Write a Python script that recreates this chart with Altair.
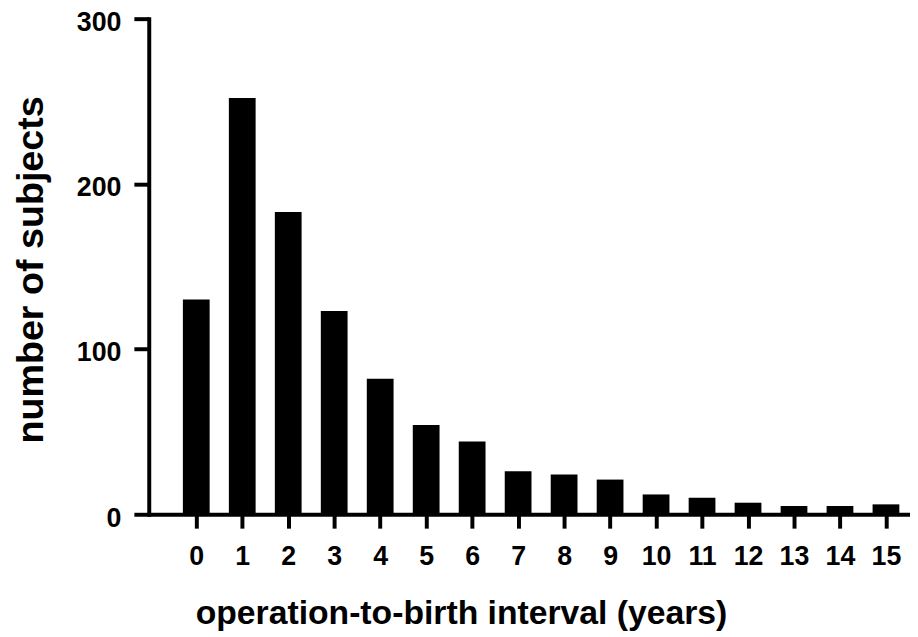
import altair as alt
import pandas as pd

years = list(range(16))
subjects = [130, 252, 183, 123, 82, 54, 44, 26, 24, 21, 12, 10, 7, 5, 5, 6]
y_ticks = [0, 100, 200, 300]

df = pd.DataFrame({"year": years, "n": subjects})

FONT = "Liberation Sans"

chart = alt.Chart(df).mark_bar(size=27, color="black").encode(
    x=alt.X(
        "year:Q",
        scale=alt.Scale(domain=[-0.9255, 15.415], nice=False, zero=False),
        axis=alt.Axis(
            values=years,
            format="d",
            title="operation-to-birth interval (years)",
            grid=False,
            domainColor="black",
            domainWidth=4,
            tickColor="black",
            tickWidth=4,
            tickSize=14,
            labelFont=FONT,
            labelFontWeight="bold",
            labelFontSize=27,
            labelColor="black",
            labelPadding=16,
            labelFlush=False,
            labelOverlap=False,
            titleFont=FONT,
            titleFontWeight="bold",
            titleFontSize=34,
            titleColor="black",
            titleAnchor="start",
            titleAlign="center",
            titleBaseline="alphabetic",
            titleX=315,
            titleY=110,
        ),
    ),
    y=alt.Y(
        "n:Q",
        scale=alt.Scale(domain=[0, 300], nice=False),
        axis=alt.Axis(
            values=y_ticks,
            title="number of subjects",
            grid=False,
            domainColor="black",
            domainWidth=4,
            domainCap="square",
            tickColor="black",
            tickWidth=4,
            tickSize=15,
            labelFont=FONT,
            labelFontWeight="bold",
            labelFontSize=27,
            labelColor="black",
            labelPadding=13,
            labelOffset=4,
            labelFlush=False,
            titleFont=FONT,
            titleFontWeight="bold",
            titleFontSize=38,
            titleColor="black",
            titleAngle=-90,
            titleAlign="center",
            titleBaseline="alphabetic",
            titleX=-107,
            titleY=253,
        ),
    ),
).properties(
    width=768,
    height=500,
    background="white",
    autosize=alt.AutoSizeParams(type="none"),
    padding={"left": 142, "top": 8, "right": 0, "bottom": 115},
).configure_view(stroke=None, strokeWidth=0)

chart.save("out.html", embed_options={"renderer": "svg", "actions": False})
